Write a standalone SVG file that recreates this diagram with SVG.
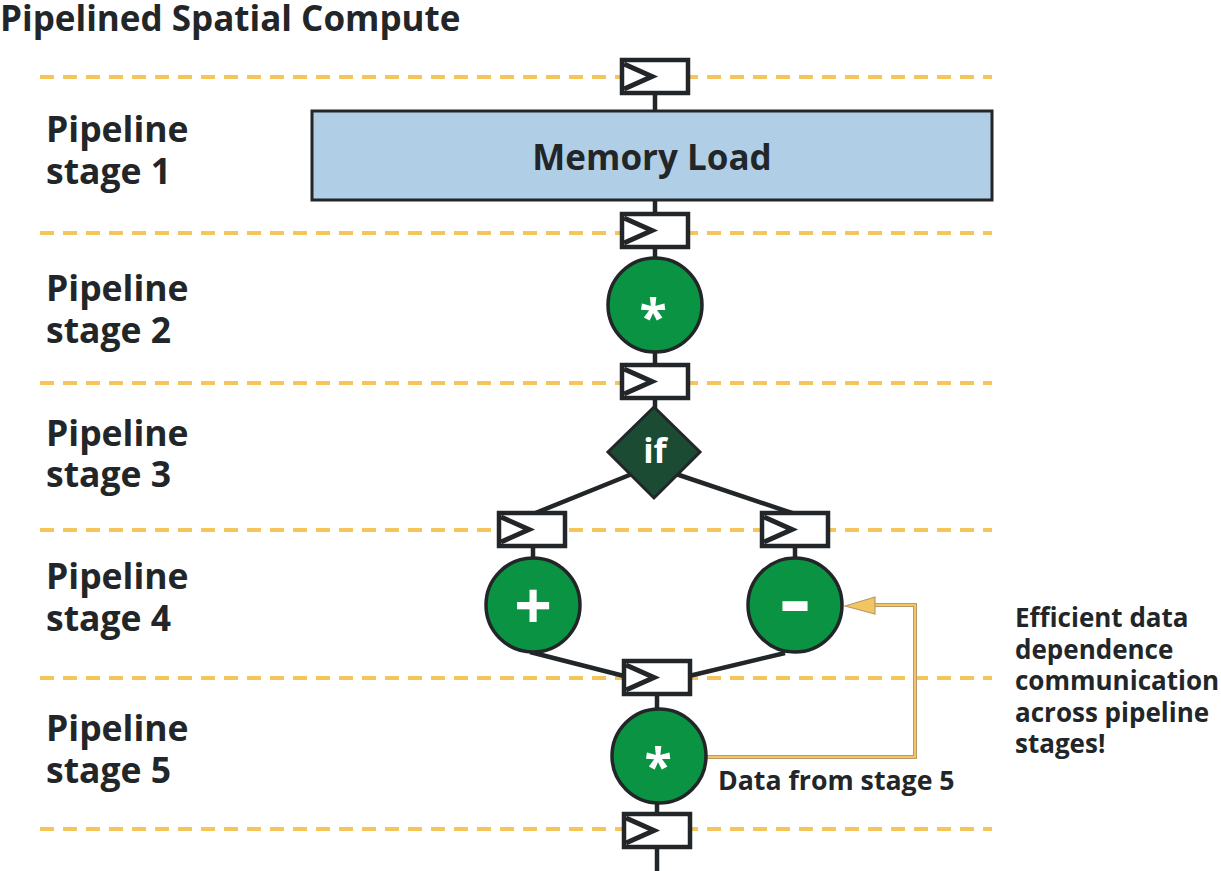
<svg xmlns="http://www.w3.org/2000/svg" width="1221" height="871" viewBox="0 0 1221 871">
<style>
.t{font-family:"Open Sans","Noto Sans","Liberation Sans",sans-serif;font-weight:700;fill:#222628}
.lbl{font-size:35.5px}
.dash{stroke:#F5C55C;stroke-width:4;stroke-dasharray:14 9;fill:none}
.reg{fill:#fff;stroke:#222628;stroke-width:4.5}
.clk{fill:none;stroke:#222628;stroke-width:5;stroke-linejoin:miter}
.wire{stroke:#222628;stroke-width:4.5;fill:none}
.op{fill:#0A9342;stroke:#222628;stroke-width:3.5}
.w{font-family:"Open Sans","Noto Sans","Liberation Sans",sans-serif;font-weight:700;fill:#fff;text-anchor:middle}
</style>
<defs>
<g id="regshape">
<rect class="reg" x="0" y="0" width="66" height="33"/>
<polyline class="clk" points="2,4 30,16.5 2,29"/>
</g>
</defs>
<rect width="1221" height="871" fill="#fff"/>
<text class="t" x="0" y="31" font-size="35">Pipelined Spatial Compute</text>
<g id="stage-lines">
<line class="dash" x1="40" y1="77" x2="992" y2="77"/>
<line class="dash" x1="40" y1="233" x2="992" y2="233"/>
<line class="dash" x1="40" y1="383" x2="992" y2="383"/>
<line class="dash" x1="40" y1="530" x2="992" y2="530"/>
<line class="dash" x1="40" y1="678" x2="992" y2="678"/>
<line class="dash" x1="40" y1="829" x2="992" y2="829"/>
</g>
<g id="stage-labels">
<text class="t lbl" x="46" y="142">Pipeline</text><text class="t lbl" x="46" y="184">stage 1</text>
<text class="t lbl" x="46" y="301">Pipeline</text><text class="t lbl" x="46" y="343">stage 2</text>
<text class="t lbl" x="46" y="446">Pipeline</text><text class="t lbl" x="46" y="487">stage 3</text>
<text class="t lbl" x="46" y="589">Pipeline</text><text class="t lbl" x="46" y="631">stage 4</text>
<text class="t lbl" x="46" y="741">Pipeline</text><text class="t lbl" x="46" y="783">stage 5</text>
</g>
<g id="connectors">
<line class="wire" x1="655" y1="93" x2="655" y2="111"/>
<line class="wire" x1="655" y1="199" x2="655" y2="215"/>
<line class="wire" x1="655" y1="247" x2="655" y2="258"/>
<line class="wire" x1="655" y1="352" x2="655" y2="366"/>
<line class="wire" x1="655" y1="398" x2="655" y2="410"/>
<line class="wire" x1="632" y1="474" x2="533" y2="514"/>
<line class="wire" x1="676" y1="474" x2="795" y2="514"/>
<line class="wire" x1="533" y1="546" x2="533" y2="559"/>
<line class="wire" x1="795" y1="546" x2="795" y2="559"/>
<line class="wire" x1="530" y1="652" x2="624" y2="676"/>
<line class="wire" x1="785" y1="653" x2="689" y2="676"/>
<line class="wire" x1="657" y1="693" x2="657" y2="709"/>
<line class="wire" x1="657" y1="802" x2="657" y2="815"/>
<line class="wire" x1="657" y1="846" x2="657" y2="871"/>
<polyline points="706,757 915,757 915,605 872,605" fill="none" stroke="#B99A68" stroke-width="4"/>
<polyline points="706,757 915,757 915,605 872,605" fill="none" stroke="#F2C462" stroke-width="2"/>
<polygon points="845,606 875,597 875,614" fill="#F2C462" stroke="#B99A68" stroke-width="1.2"/>
</g>
<g id="reg0"><use href="#regshape" x="622" y="60"/></g>
<g id="memory-load">
<rect x="312" y="111" width="680" height="89" fill="#B1CEE7" stroke="#222628" stroke-width="3"/>
<text class="t" x="652" y="170" font-size="35" text-anchor="middle">Memory Load</text>
</g>
<g id="reg1"><use href="#regshape" x="622" y="214"/></g>
<g id="mul1">
<circle class="op" cx="655" cy="305" r="47"/>
<text class="w" x="653" y="335" font-size="50">*</text>
</g>
<g id="reg2"><use href="#regshape" x="622" y="365"/></g>
<g id="if">
<polygon points="654,407 700,452 654,498 608,452" fill="#1B4B32" stroke="#222628" stroke-width="3"/>
<text class="w" x="655" y="463" font-size="34">if</text>
</g>
<g id="reg3a"><use href="#regshape" x="499" y="513"/></g>
<g id="reg3b"><use href="#regshape" x="762" y="513"/></g>
<g id="add">
<circle class="op" cx="533" cy="605" r="47"/>
<text class="w" x="533" y="629" font-size="66">+</text>
</g>
<g id="sub">
<circle class="op" cx="795" cy="605" r="47"/>
<text class="w" x="795" y="620" font-size="50" stroke="#fff" stroke-width="4">–</text>
</g>
<g id="reg4"><use href="#regshape" x="624" y="661"/></g>
<g id="mul2">
<circle class="op" cx="659" cy="756" r="47"/>
<text class="w" x="658" y="784" font-size="50">*</text>
</g>
<g id="reg5"><use href="#regshape" x="624" y="814"/></g>
<g id="notes">
<text class="t" x="718" y="790" font-size="26.7">Data from stage 5</text>
<text class="t" x="1015" y="627" font-size="26">Efficient data</text>
<text class="t" x="1015" y="659" font-size="26">dependence</text>
<text class="t" x="1015" y="690" font-size="26">communication</text>
<text class="t" x="1015" y="722" font-size="26">across pipeline</text>
<text class="t" x="1015" y="753" font-size="26">stages!</text>
</g>
</svg>
